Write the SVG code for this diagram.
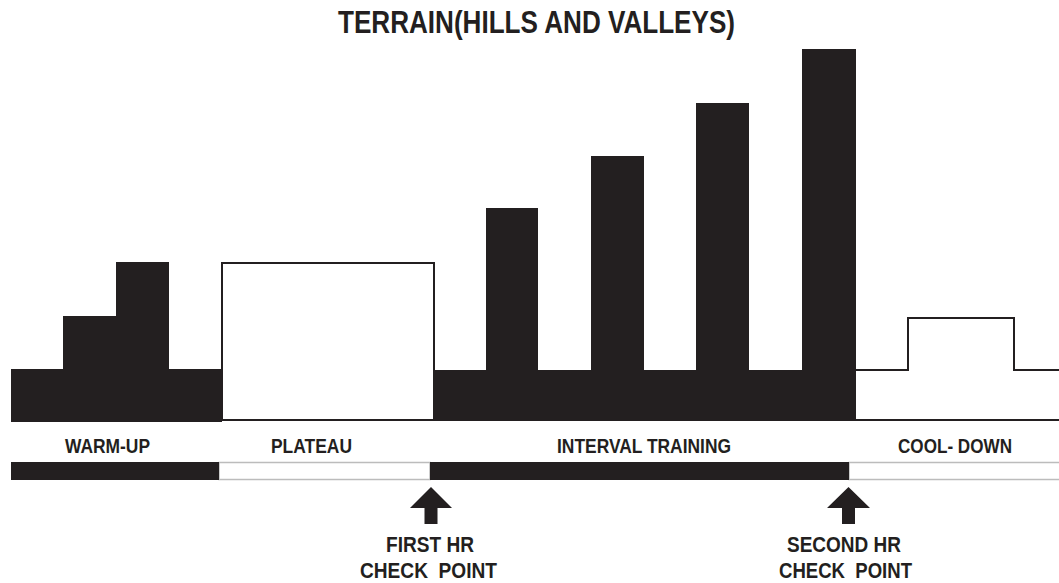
<svg xmlns="http://www.w3.org/2000/svg" width="1059" height="583" viewBox="0 0 1059 583">
<style>
.blk{fill:#231f20}
.out{fill:#fff;stroke:#231f20;stroke-width:2}
.wbar{fill:#fff;stroke:#bcbcbc;stroke-width:1.5}
text{font-family:"Liberation Sans",Arial,sans-serif;font-weight:bold;fill:#231f20;text-anchor:middle;white-space:pre}
.lbl{font-size:20.5px}
.chk{font-size:22px}
</style>
<rect width="1059" height="583" fill="#fff"/>
<text x="536.5" y="33" font-size="30.5" textLength="397" lengthAdjust="spacingAndGlyphs">TERRAIN(HILLS AND VALLEYS)</text>
<g id="warmup">
<polygon class="blk" points="11,422 11,369 63,369 63,316 116,316 116,262 169,262 169,369 222,369 222,422"/>
</g>
<g id="plateau">
<rect class="out" x="222" y="263" width="212" height="157"/>
</g>
<g id="interval">
<polygon class="blk" points="433,421 433,370 486,370 486,208 538,208 538,370 591,370 591,156 644,156 644,370 696,370 696,103 749,103 749,370 802,370 802,49 856,49 856,421"/>
</g>
<g id="cooldown">
<polyline points="856,370 908,370 908,318 1014,318 1014,370 1059,370" fill="none" stroke="#231f20" stroke-width="2"/>
<line x1="856" y1="420" x2="1059" y2="420" stroke="#231f20" stroke-width="2"/>
</g>
<g id="labels">
<text class="lbl" x="107.5" y="453" textLength="85" lengthAdjust="spacingAndGlyphs">WARM-UP</text>
<text class="lbl" x="311.5" y="453" textLength="81" lengthAdjust="spacingAndGlyphs">PLATEAU</text>
<text class="lbl" x="644" y="453" textLength="174" lengthAdjust="spacingAndGlyphs">INTERVAL TRAINING</text>
<text class="lbl" x="955" y="453" textLength="114" lengthAdjust="spacingAndGlyphs">COOL- DOWN</text>
</g>
<g id="timeline">
<rect class="wbar" x="219" y="462.5" width="211" height="17"/>
<rect class="wbar" x="849" y="462.5" width="212" height="17"/>
<rect class="blk" x="11" y="462" width="208" height="18"/>
<rect class="blk" x="430" y="462" width="419" height="18"/>
</g>
<g id="connectors">
<polygon class="blk" points="431,487 452,508 437.5,508 437.5,524 424.5,524 424.5,508 410,508"/>
<polygon class="blk" points="848.5,487 870,508 855,508 855,524 842,524 842,508 827,508"/>
</g>
<g id="checkpoint1">
<text class="chk" x="430" y="552" textLength="88" lengthAdjust="spacingAndGlyphs">FIRST HR</text>
<text class="chk" x="428.5" y="578" textLength="137" lengthAdjust="spacingAndGlyphs">CHECK  POINT</text>
</g>
<g id="checkpoint2">
<text class="chk" x="844" y="552" textLength="114" lengthAdjust="spacingAndGlyphs">SECOND HR</text>
<text class="chk" x="845.5" y="578" textLength="133" lengthAdjust="spacingAndGlyphs">CHECK  POINT</text>
</g>
</svg>
